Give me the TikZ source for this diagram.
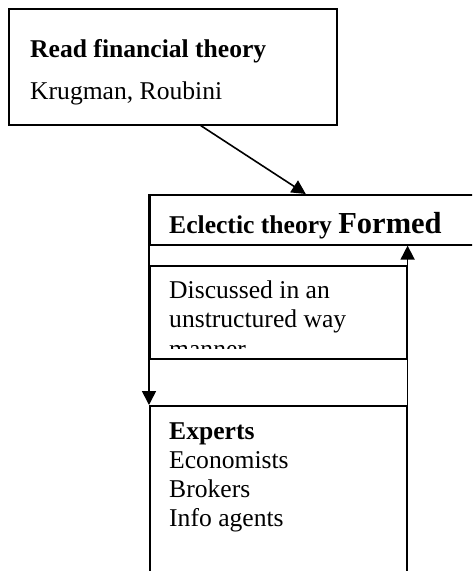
\documentclass[tikz,border=0pt]{standalone}
\usepackage{fontspec}
\setmainfont{Liberation Serif}
\usetikzlibrary{arrows.meta}

\tikzset{
  box/.style={draw, line width=1.6pt, anchor=north west, inner sep=0pt},
  txt/.style={anchor=base west, inner sep=0pt, font=\fontsize{25.6}{29}\selectfont},
  flow/.style={line width=1.6pt, -{Triangle[width=14pt,length=14pt]}},
}

\begin{document}
\begin{tikzpicture}[x=1pt,y=-1pt]

  \useasboundingbox (0,0) rectangle (472,571);
  \clip (0,0) rectangle (472,571);

  % boxes
  \node[box, minimum width=328pt, minimum height=116pt] (read) at (8,8) {};
  \node[box, minimum width=340pt, minimum height=50pt] (formed) at (149,194) {};
  \node[box, minimum width=257pt, minimum height=93pt] (discuss) at (149,265) {};
  \node[box, minimum width=257pt, minimum height=200pt] (experts) at (149,405) {};

  % texts
  \node[txt] (readtitle) at (30,57) {\textbf{Read financial theory}};
  \node[txt] (readnames) at (30,99) {Krugman, Roubini};
  \node[txt] (eclectic) at (169,233) {\textbf{Eclectic theory {\fontsize{30.5}{36}\selectfont Formed}}};

  \begin{scope}
  \clip (149,265) rectangle (406,348);
  \node[txt] (disc1) at (169,298) {Discussed in an};
  \node[txt] (disc2) at (169,327) {unstructured way};
  \node[txt] (disc3) at (169,357) {manner};
  \end{scope}

  \node[txt] (exp1) at (169,439) {\textbf{Experts}};
  \node[txt] (exp2) at (169,468) {Economists};
  \node[txt] (exp3) at (169,497) {Brokers};
  \node[txt] (exp4) at (169,526) {Info agents};

  % arrows
  \draw[flow] ([xshift=28pt]read.south) -- ([xshift=-14pt]formed.north);
  \draw[flow] (formed.north west) -- (experts.north west);
  \draw[flow] (experts.south east) -- (experts.east |- formed.south);

\end{tikzpicture}
\end{document}
